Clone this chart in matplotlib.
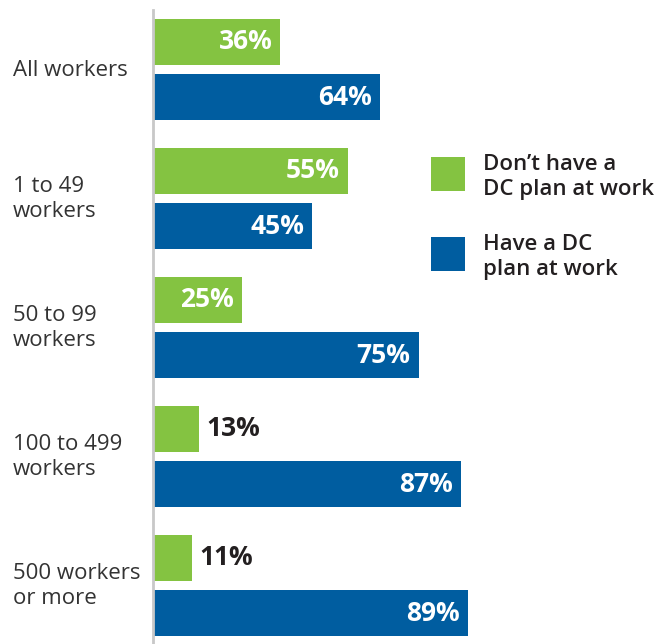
import matplotlib.pyplot as plt
from matplotlib.patches import Rectangle

plt.rcParams['font.family'] = ['Open Sans', 'DejaVu Sans']

categories = ['All workers', '1 to 49\nworkers', '50 to 99\nworkers', '100 to 499\nworkers', '500 workers\nor more']
dont_have = [36, 55, 25, 13, 11]
have = [64, 45, 75, 87, 89]
series_names = ["Don\u2019t have a\nDC plan at work", 'Have a DC\nplan at work']

GREEN = '#84C341'
BLUE = '#005DA0'
DARK = '#231F20'

W, H = 655, 644
fig = plt.figure(figsize=(W / 100, H / 100), dpi=100)
ax = fig.add_axes([153 / W, 0, 1 - 153 / W, 1])

off = 0.215
bh = 0.357
ypos = list(range(len(categories)))
ax.barh([y - off for y in ypos], dont_have, height=bh, color=GREEN)
ax.barh([y + off for y in ypos], have, height=bh, color=BLUE)

ax.set_xlim(0, (W - 153) / 3.54)
ax.set_ylim((H - 69.5) / 129, -69.5 / 129)

# value labels: white inside long bars, dark outside short ones
for vals, sign in ((dont_have, -1), (have, 1)):
    for y, v in zip(ypos, vals):
        if v >= 20:
            ax.annotate(f'{v}%', (v, y + sign * off), xytext=(-8, 0), textcoords='offset pixels',
                        ha='right', va='center', color='white', fontsize=19, fontweight='bold')
        else:
            ax.annotate(f'{v}%', (v, y + sign * off), xytext=(7, 0), textcoords='offset pixels',
                        ha='left', va='center', color=DARK, fontsize=19, fontweight='bold')

for y, lab in zip(ypos, categories):
    fig.text(13 / W, 1 - (70 + 129 * y) / H, lab, ha='left', va='center',
             fontsize=16, color='#333333', linespacing=1.3)

for s in ('top', 'right', 'bottom'):
    ax.spines[s].set_visible(False)
ax.spines['left'].set_color('#C8C8C8')
ax.spines['left'].set_linewidth(2)
ax.spines['left'].set_bounds((H - 69.5) / 129, (10 - 69.5) / 129)
ax.set_xticks([])
ax.set_yticks([])

# legend
for (top, name, col) in ((157, series_names[0], GREEN), (237, series_names[1], BLUE)):
    fig.add_artist(Rectangle((431 / W, 1 - (top + 34) / H), 34 / W, 34 / H,
                             transform=fig.transFigure, color=col, lw=0))
    fig.text(483 / W, 1 - (top + 20) / H, name, ha='left', va='center',
             fontsize=16, fontweight='semibold', color=DARK, linespacing=1.25)

fig.savefig('out.png', dpi=100)
